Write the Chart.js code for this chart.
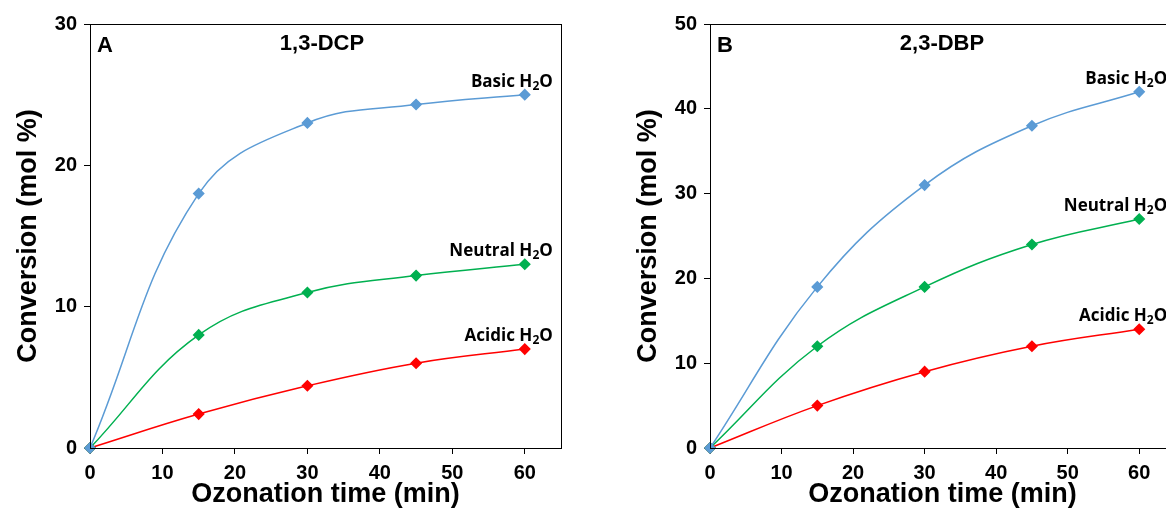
<!DOCTYPE html>
<html>
<head>
<meta charset="utf-8">
<script src="https://cdn.jsdelivr.net/npm/chart.js@4/dist/chart.umd.min.js"></script>
<style>
  html, body { margin: 0; padding: 0; background: #fff; overflow: hidden; }
  #wrap { position: relative; width: 1166px; height: 513px; overflow: hidden; }
  #chartA { position: absolute; left: 0; top: 0; }
  #chartB { position: absolute; left: 620px; top: 0; }
</style>
</head>
<body>
<div id="wrap">
  <canvas id="chartA" width="600" height="513"></canvas>
  <canvas id="chartB" width="600" height="513"></canvas>
</div>
<script>
// time points (min)
const times = [0, 15, 30, 45, 60];
const seriesNames = ['Basic', 'Neutral', 'Acidic'];
const seriesColors = ['#5B9BD5', '#00B050', '#FF0000'];

// panel A: 1,3-DCP conversion (mol %)
const dcpBasic = [0, 18, 23, 24.3, 25];
const dcpNeutral = [0, 8, 11, 12.2, 13];
const dcpAcidic = [0, 2.4, 4.4, 6, 7];

// panel B: 2,3-DBP conversion (mol %)
const dbpBasic = [0, 19, 31, 38, 42];
const dbpNeutral = [0, 12, 19, 24, 27];
const dbpAcidic = [0, 5, 9, 12, 14];

const xTicks = [0, 10, 20, 30, 40, 50, 60];
const yTicksA = [0, 10, 20, 30];
const yTicksB = [0, 10, 20, 30, 40, 50];

const labelFont = '"Liberation Sans", Arial, sans-serif';
const seriesFont = '"Open Sans", Lato, sans-serif';

// box round the plot area, panel letter, compound name and series labels
const decorPlugin = {
    id: 'decor',
    afterDatasetsDraw(chart, args, opts) {
        const ctx = chart.ctx;
        const a = chart.chartArea;
        ctx.save();
        ctx.strokeStyle = '#000';
        ctx.lineWidth = 1;
        ctx.strokeRect(a.left + 0.5, a.top + 0.5, a.right - a.left, a.bottom - a.top);

        ctx.fillStyle = '#000';
        ctx.textBaseline = 'middle';
        ctx.font = 'bold 22px ' + labelFont;
        ctx.textAlign = 'left';
        ctx.fillText(opts.letter, a.left + 7, 46);
        ctx.textAlign = 'center';
        ctx.fillText(opts.name, 322, 44);

        // series labels with subscript 2
        chart.data.datasets.forEach((ds, i) => {
            const pts = chart.getDatasetMeta(i).data;
            const p = pts[pts.length - 1];
            const big = 'bold 17px ' + seriesFont;
            const small = 'bold 12px ' + seriesFont;
            ctx.font = big;
            const w1 = ctx.measureText(ds.label + ' H').width;
            const w3 = ctx.measureText('O').width;
            ctx.font = small;
            const w2 = ctx.measureText('2').width;
            const right = p.x + 28;
            const y = p.y - 8;
            let x = right - w1 - w2 - w3;
            ctx.textAlign = 'left';
            ctx.textBaseline = 'alphabetic';
            ctx.font = big;
            ctx.fillText(ds.label + ' H', x, y);
            x += w1;
            ctx.font = small;
            ctx.fillText('2', x, y + 3);
            x += w2;
            ctx.font = big;
            ctx.fillText('O', x, y);
        });
        ctx.restore();
    }
};

function makeChart(id, values, yMax, yTicks, letter, name, rightPad) {
    const datasets = values.map((v, i) => ({
        label: seriesNames[i],
        data: times.map((t, k) => ({ x: t, y: v[k] })),
        borderColor: seriesColors[i],
        backgroundColor: seriesColors[i],
        borderWidth: 1.5,
        tension: 0.4,
        pointStyle: 'rectRot',
        pointRadius: 5,
        pointHoverRadius: 5,
        clip: false
    }));

    return new Chart(document.getElementById(id), {
        type: 'line',
        data: { datasets: datasets },
        plugins: [decorPlugin],
        options: {
            responsive: false,
            animation: false,
            events: [],
            layout: { padding: { left: 0, right: rightPad, top: 24, bottom: 0 } },
            plugins: {
                legend: { display: false },
                tooltip: { enabled: false },
                decor: { letter: letter, name: name }
            },
            scales: {
                x: {
                    type: 'linear',
                    min: 0,
                    max: 65,
                    afterBuildTicks: s => { s.ticks = xTicks.map(v => ({ value: v })); },
                    afterFit: s => { s.height = 65; },
                    border: { color: '#000', width: 1 },
                    grid: { drawOnChartArea: false, drawTicks: true, tickLength: 6, color: '#000' },
                    ticks: {
                        color: '#000',
                        padding: 7,
                        maxRotation: 0,
                        font: { family: labelFont, size: 20, weight: 'bold' }
                    },
                    title: {
                        display: true,
                        text: 'Ozonation time (min)',
                        color: '#000',
                        padding: { top: 0, bottom: 2 },
                        font: { family: labelFont, size: 27, weight: 'bold' }
                    }
                },
                y: {
                    min: 0,
                    max: yMax,
                    afterBuildTicks: s => { s.ticks = yTicks.map(v => ({ value: v })); },
                    afterFit: s => { s.width = 90; },
                    border: { color: '#000', width: 1 },
                    grid: { drawOnChartArea: false, drawTicks: true, tickLength: 6, color: '#000' },
                    ticks: {
                        color: '#000',
                        padding: 7,
                        font: { family: labelFont, size: 20, weight: 'bold' }
                    },
                    title: {
                        display: true,
                        text: 'Conversion (mol %)',
                        color: '#000',
                        padding: { top: 12, bottom: 0 },
                        font: { family: labelFont, size: 27, weight: 'bold' }
                    }
                }
            }
        }
    });
}

makeChart('chartA', [dcpBasic, dcpNeutral, dcpAcidic], 30, yTicksA, 'A', '1,3-DCP', 39);
makeChart('chartB', [dbpBasic, dbpNeutral, dbpAcidic], 50, yTicksB, 'B', '2,3-DBP', 45);
</script>
</body>
</html>
